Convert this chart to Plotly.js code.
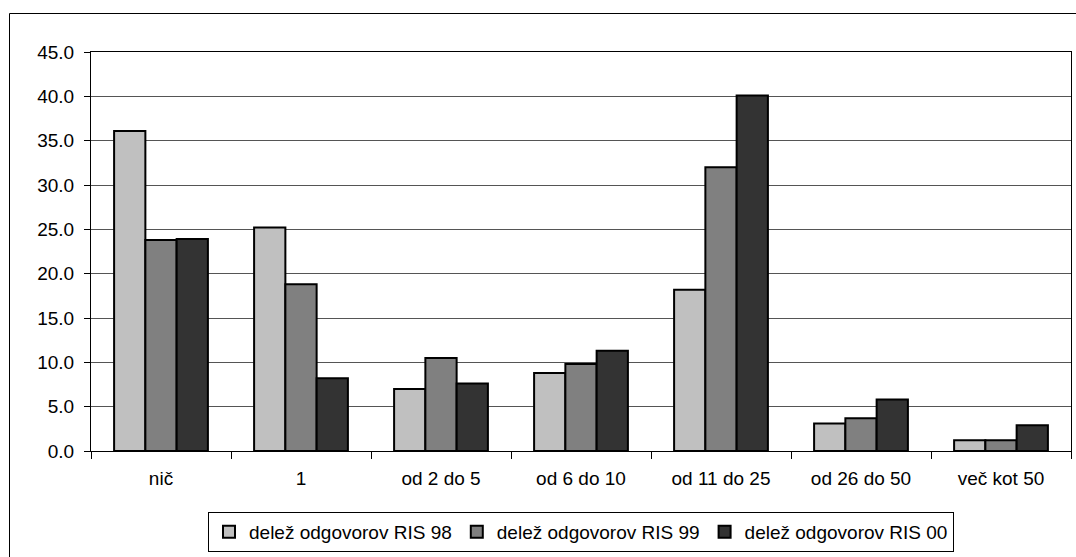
<!DOCTYPE html>
<html>
<head>
<meta charset="utf-8">
<script src="https://cdn.plot.ly/plotly-3.0.1.min.js"></script>
<style>html,body{margin:0;padding:0;background:#fff;}#chart{width:1076px;height:557px;}</style>
</head>
<body>
<div id="chart"></div>
<script>
var categories = ["nič", "1", "od 2 do 5", "od 6 do 10", "od 11 do 25", "od 26 do 50", "več kot 50"];
var seriesNames = ["delež odgovorov RIS 98", "delež odgovorov RIS 99", "delež odgovorov RIS 00"];
var ris98 = [36.1, 25.2, 7.0, 8.8, 18.2, 3.1, 1.2];
var ris99 = [23.8, 18.8, 10.5, 9.8, 32.0, 3.7, 1.2];
var ris00 = [23.9, 8.2, 7.6, 11.3, 40.1, 5.8, 2.9];
var yTicks = [0, 5, 10, 15, 20, 25, 30, 35, 40, 45];

var colors = ["#C0C0C0", "#808080", "#333333"];
var values = [ris98, ris99, ris00];
var traces = values.map(function (v, i) {
  return {
    type: "bar",
    name: seriesNames[i],
    x: categories,
    y: v,
    marker: { color: colors[i], line: { color: "#000", width: 2 } },
    hoverinfo: "x+y+name"
  };
});

var font = { family: "'Liberation Sans', Arial, sans-serif", size: 19, color: "#000" };
var L = 91, R = 1071, T = 52, B = 451;
function px(x) { return (x - L) / (R - L); }
function py(y) { return (B - y) / (B - T); }

var layout = {
  width: 1076,
  height: 557,
  margin: { l: L, r: 1076 - R, t: T, b: 557 - B, pad: 0, autoexpand: false },
  paper_bgcolor: "#fff",
  plot_bgcolor: "#fff",
  font: font,
  showlegend: true,
  barmode: "group",
  bargap: 0.33,
  bargroupgap: 0,
  xaxis: {
    type: "category",
    showline: true,
    linecolor: "#000",
    linewidth: 1,
    mirror: true,
    showgrid: false,
    ticks: "outside",
    tickson: "boundaries",
    ticklen: 7,
    tickcolor: "#000",
    tickfont: font,
    ticklabelstandoff: 10,
    automargin: false,
    fixedrange: true
  },
  yaxis: {
    range: [0, 45],
    tickvals: yTicks,
    tickformat: ".1f",
    showline: true,
    linecolor: "#000",
    linewidth: 1,
    mirror: true,
    showgrid: true,
    gridcolor: "#555",
    gridwidth: 1,
    zeroline: false,
    ticks: "outside",
    ticklen: 6,
    tickcolor: "#000",
    tickfont: font,
    ticklabelstandoff: 6,
    automargin: false,
    fixedrange: true
  },
  legend: {
    orientation: "h",
    x: 0.5,
    xanchor: "center",
    y: py(552),
    yanchor: "bottom",
    yref: "paper",
    bordercolor: "#000",
    borderwidth: 1,
    bgcolor: "#fff",
    font: { family: "'Liberation Sans', Arial, sans-serif", size: 19, color: "#000" },
    itemclick: false,
    itemdoubleclick: false
  },
  shapes: [
    {
      type: "rect",
      xref: "paper", yref: "paper",
      x0: px(9.5), x1: px(1090),
      y0: py(570), y1: py(13.5),
      line: { color: "#000", width: 1 },
      fillcolor: "rgba(0,0,0,0)",
      layer: "below"
    }
  ]
};

Plotly.newPlot("chart", traces, layout, { displayModeBar: false });
</script>
</body>
</html>
